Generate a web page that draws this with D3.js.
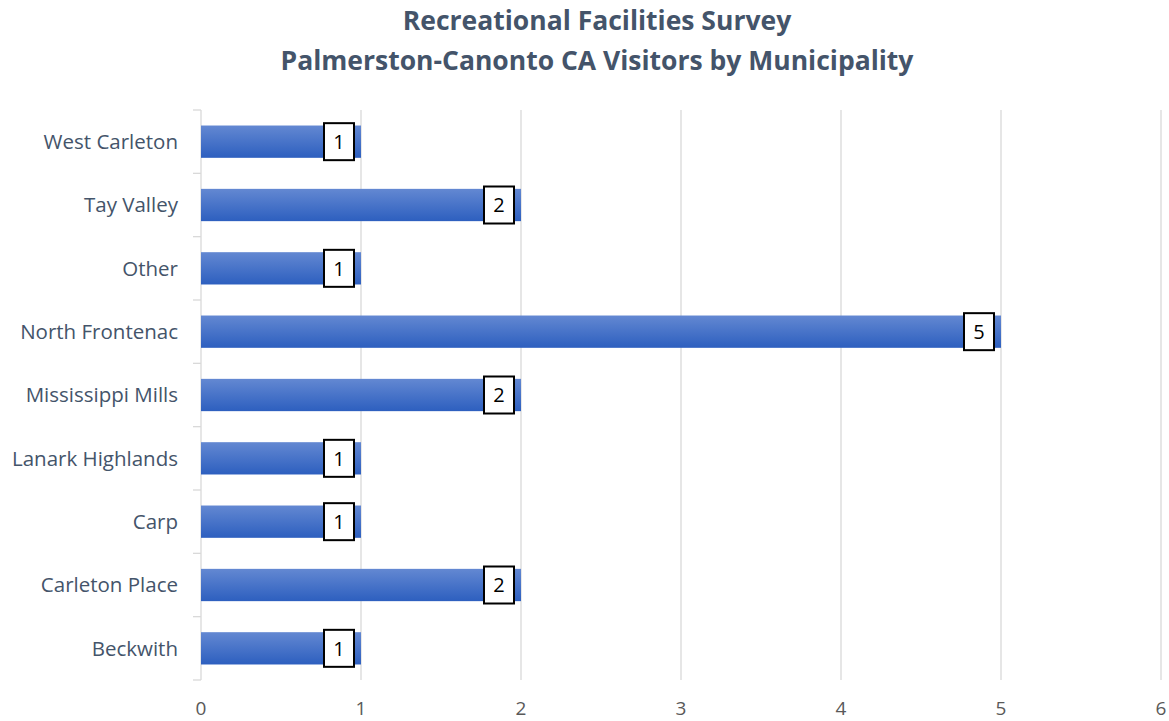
<!DOCTYPE html>
<html lang="en">
<head>
<meta charset="UTF-8">
<title>Recreational Facilities Survey</title>
<style>
  body { margin: 0; background: #fff; }
  svg { display: block; font-family: "Open Sans", sans-serif; }
</style>
</head>
<body>
<div id="chart"></div>
<script src="https://d3js.org/d3.v7.min.js"></script>
<script>
// data, bottom to top as in the picture
var municipalities = ["Beckwith", "Carleton Place", "Carp", "Lanark Highlands", "Mississippi Mills",
                      "North Frontenac", "Other", "Tay Valley", "West Carleton"];
var visitors = [1, 2, 1, 1, 2, 5, 1, 2, 1];
var xTicks = [0, 1, 2, 3, 4, 5, 6];
var titleLines = ["Recreational Facilities Survey", "Palmerston-Canonto CA Visitors by Municipality"];

var W = 1169, H = 721;
var margin = {top: 110, right: 8, bottom: 41, left: 201};

var svg = d3.select("#chart").append("svg")
    .attr("width", W)
    .attr("height", H);

var defs = svg.append("defs");
var grad = defs.append("linearGradient")
    .attr("id", "barGrad")
    .attr("x1", 0).attr("y1", 0).attr("x2", 0).attr("y2", 1);
grad.append("stop").attr("offset", "0%").attr("stop-color", "#6388d2");
grad.append("stop").attr("offset", "100%").attr("stop-color", "#2d5fbf");

var x = d3.scaleLinear()
    .domain([0, 6])
    .range([margin.left, W - margin.right]);

var y = d3.scaleBand()
    .domain(municipalities.slice().reverse())
    .range([margin.top, H - margin.bottom])
    .paddingInner(0.49)
    .paddingOuter(0.245);

// title
svg.append("g").selectAll("text")
    .data(titleLines)
    .enter().append("text")
    .attr("x", 597)
    .attr("y", (d, i) => 30 + i * 40)
    .attr("text-anchor", "middle")
    .style("font-size", "26.5px")
    .style("font-weight", "bold")
    .style("fill", "#44546a")
    .text(d => d);

// vertical gridlines
svg.append("g").selectAll("line")
    .data(xTicks.slice(1))
    .enter().append("line")
    .attr("x1", d => x(d)).attr("x2", d => x(d))
    .attr("y1", margin.top).attr("y2", H - margin.bottom)
    .attr("stroke", "#d9d9d9")
    .attr("stroke-width", 1.3);

// category axis with the tick marks between the bands
var bandStep = y.step();
var yAxisG = svg.append("g");
yAxisG.append("line")
    .attr("x1", x(0)).attr("x2", x(0))
    .attr("y1", margin.top).attr("y2", H - margin.bottom)
    .attr("stroke", "#d9d9d9")
    .attr("stroke-width", 1.3);
var bounds = d3.range(municipalities.length + 1).map(i => margin.top + i * bandStep);
yAxisG.selectAll(".tk")
    .data(bounds)
    .enter().append("line")
    .attr("class", "tk")
    .attr("x1", x(0) - 8).attr("x2", x(0))
    .attr("y1", d => d).attr("y2", d => d)
    .attr("stroke", "#d9d9d9")
    .attr("stroke-width", 1.3);

yAxisG.selectAll(".lbl")
    .data(municipalities)
    .enter().append("text")
    .attr("class", "lbl")
    .attr("x", x(0) - 23)
    .attr("y", d => y(d) + y.bandwidth() / 2)
    .attr("dy", "0.35em")
    .attr("text-anchor", "end")
    .style("font-size", "20.5px")
    .style("fill", "#44546a")
    .text(d => d);

// bottom tick labels
svg.append("g").selectAll("text")
    .data(xTicks)
    .enter().append("text")
    .attr("x", d => x(d))
    .attr("y", H - 6)
    .attr("text-anchor", "middle")
    .style("font-size", "19px")
    .style("fill", "#595959")
    .text(d => d);

// bars
var rows = municipalities.map((m, i) => ({name: m, value: visitors[i]}));

svg.append("g").selectAll("rect")
    .data(rows)
    .enter().append("rect")
    .attr("x", x(0))
    .attr("y", d => y(d.name))
    .attr("width", d => x(d.value) - x(0))
    .attr("height", y.bandwidth())
    .attr("fill", "url(#barGrad)");

// value labels in boxes
var lab = svg.append("g").selectAll("g")
    .data(rows)
    .enter().append("g")
    .attr("transform", d => "translate(" + (x(d.value) - 22) + "," + (y(d.name) + y.bandwidth() / 2) + ")");

lab.append("rect")
    .attr("x", -15).attr("y", -18.5)
    .attr("width", 30).attr("height", 37)
    .attr("fill", "#fff")
    .attr("stroke", "#000")
    .attr("stroke-width", 2);

lab.append("text")
    .attr("dy", "0.36em")
    .attr("text-anchor", "middle")
    .style("font-size", "20px")
    .style("fill", "#000")
    .text(d => d.value);
</script>
</body>
</html>
